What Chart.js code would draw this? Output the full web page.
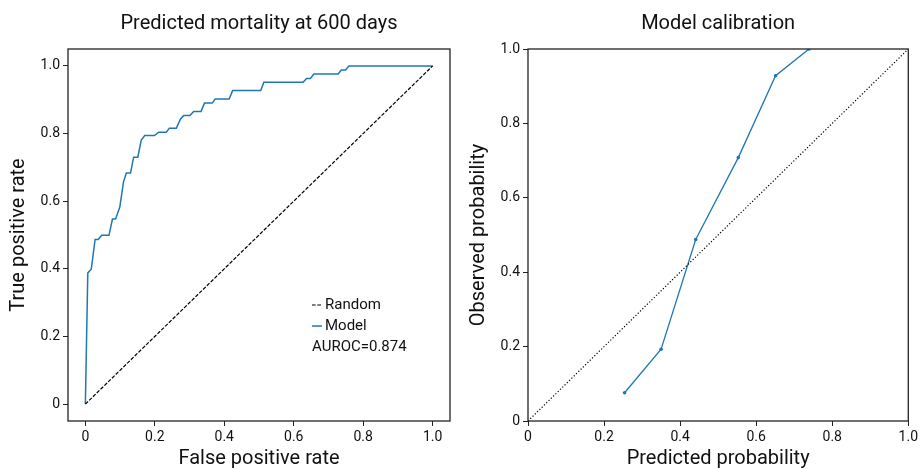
<!DOCTYPE html>
<html>
<head>
<meta charset="utf-8">
<script src="https://cdn.jsdelivr.net/npm/chart.js@4.4.1/dist/chart.umd.min.js"></script>
<style>
    html, body { margin: 0; padding: 0; background: #fff; }
    #wrap { position: relative; width: 921px; height: 469px; }
    #rocChart { position: absolute; left: 0; top: 0; }
    #calChart { position: absolute; left: 460px; top: 0; }
</style>
</head>
<body>
<div id="wrap">
    <canvas id="rocChart" width="460" height="469"></canvas>
    <canvas id="calChart" width="461" height="469"></canvas>
</div>
<script>
// ROC curve
const rocFpr = [0, 0.007, 0.017, 0.028, 0.037, 0.047, 0.068, 0.078, 0.087, 0.099, 0.110, 0.118, 0.130,
    0.139, 0.151, 0.161, 0.171, 0.199, 0.211, 0.233, 0.242, 0.262, 0.274, 0.283, 0.301, 0.312, 0.333,
    0.343, 0.365, 0.374, 0.414, 0.424, 0.505, 0.514, 0.627, 0.637, 0.648, 0.658, 0.728, 0.737, 0.749,
    0.759, 1.0];
const rocTpr = [0, 0.388, 0.399, 0.487, 0.487, 0.499, 0.499, 0.547, 0.547, 0.582, 0.658, 0.683, 0.683,
    0.730, 0.730, 0.781, 0.794, 0.794, 0.804, 0.804, 0.816, 0.816, 0.843, 0.853, 0.853, 0.865, 0.865,
    0.890, 0.890, 0.902, 0.902, 0.927, 0.927, 0.952, 0.952, 0.963, 0.963, 0.976, 0.976, 0.988, 0.988,
    1.0, 1.0];
const randomLine = [0, 1];

// Calibration curve
const calPredicted = [0.254, 0.350, 0.441, 0.553, 0.651, 0.739];
const calObserved = [0.076, 0.193, 0.488, 0.708, 0.928, 1.0];

const tickValues = [0, 0.2, 0.4, 0.6, 0.8, 1.0];
const aurocLabel = 'AUROC=0.874';

const FONT = 'Roboto, "DejaVu Sans", sans-serif';
const TEXT = '#111';
const BLUE = '#1f77b4';

function toPoints(xs, ys) {
    return xs.map((x, i) => ({ x: x, y: ys[i] }));
}

function fmtTick(v) {
    return v === 0 ? '0' : v.toFixed(1);
}

// eje estilo matplotlib
function makeAxis(min, max, title, horizontal) {
    return {
        type: 'linear',
        min: min,
        max: max,
        afterBuildTicks: function (scale) {
            scale.ticks = tickValues.map(v => ({ value: v }));
        },
        afterFit: function (scale) {
            if (horizontal) scale.height = 48;
            else scale.width = 68;
        },
        grid: {
            display: true,
            drawOnChartArea: false,
            drawTicks: true,
            tickLength: 5,
            color: '#222',
            lineWidth: 1
        },
        border: { display: false },
        ticks: {
            padding: 3,
            color: TEXT,
            font: { family: FONT, size: 14 },
            callback: fmtTick,
            maxRotation: 0,
            autoSkip: false
        },
        title: {
            display: true,
            text: title,
            color: TEXT,
            font: { family: FONT, size: 20, lineHeight: 1 },
            padding: horizontal ? { top: 0, bottom: 0 } : { top: 8.5, bottom: 0 }
        }
    };
}

// marco completo alrededor del área
const framePlugin = {
    id: 'frame',
    afterDraw: function (chart) {
        const a = chart.chartArea;
        const ctx = chart.ctx;
        ctx.save();
        ctx.strokeStyle = '#222';
        ctx.lineWidth = 1.3;
        ctx.setLineDash([]);
        ctx.strokeRect(a.left, a.top, a.right - a.left, a.bottom - a.top);
        ctx.restore();
    }
};

// leyenda dentro del gráfico ROC
const rocLegendPlugin = {
    id: 'rocLegend',
    afterDatasetsDraw: function (chart) {
        const ctx = chart.ctx;
        const x0 = 312, textX = 325;
        const rows = [305, 326, 347];
        ctx.save();
        ctx.font = '15px ' + FONT;
        ctx.fillStyle = TEXT;
        ctx.textBaseline = 'middle';
        ctx.textAlign = 'left';

        ctx.strokeStyle = '#000';
        ctx.lineWidth = 1.2;
        ctx.setLineDash([3.7, 1.6]);
        ctx.beginPath();
        ctx.moveTo(x0, rows[0]);
        ctx.lineTo(x0 + 9, rows[0]);
        ctx.stroke();
        ctx.fillText('Random', textX, rows[0]);

        ctx.strokeStyle = BLUE;
        ctx.lineWidth = 1.5;
        ctx.setLineDash([]);
        ctx.beginPath();
        ctx.moveTo(x0, rows[1]);
        ctx.lineTo(x0 + 10, rows[1]);
        ctx.stroke();
        ctx.fillText('Model', textX, rows[1]);

        ctx.fillText(aurocLabel, x0, rows[2]);
        ctx.restore();
    }
};

function baseOptions(titleText, xTitle, yTitle, lo, hi, padRight) {
    return {
        responsive: false,
        animation: false,
        layout: { padding: { left: 0, right: padRight, top: 0, bottom: 0 } },
        plugins: {
            legend: { display: false },
            tooltip: { enabled: false },
            title: {
                display: true,
                fullSize: false,
                text: titleText,
                color: TEXT,
                font: { family: FONT, size: 20, weight: 'normal', lineHeight: 1.2 },
                padding: { top: 11.5, bottom: 13.5 }
            }
        },
        scales: {
            x: makeAxis(lo, hi, xTitle, true),
            y: makeAxis(lo, hi, yTitle, false)
        }
    };
}

document.addEventListener('DOMContentLoaded', function () {
    new Chart(document.getElementById('rocChart').getContext('2d'), {
        type: 'line',
        data: {
            datasets: [{
                label: 'Random',
                data: toPoints(randomLine, randomLine),
                borderColor: '#000',
                borderWidth: 1.2,
                borderDash: [3.7, 1.6],
                pointRadius: 0,
                fill: false
            }, {
                label: 'Model',
                data: toPoints(rocFpr, rocTpr),
                borderColor: BLUE,
                borderWidth: 1.5,
                pointRadius: 0,
                tension: 0,
                fill: false
            }]
        },
        options: baseOptions('Predicted mortality at 600 days', 'False positive rate', 'True positive rate', -0.05, 1.05, 10),
        plugins: [framePlugin, rocLegendPlugin]
    });

    new Chart(document.getElementById('calChart').getContext('2d'), {
        type: 'line',
        data: {
            datasets: [{
                label: 'Perfect',
                data: toPoints(randomLine, randomLine),
                borderColor: '#000',
                borderWidth: 1.2,
                borderDash: [1.2, 2],
                pointRadius: 0,
                fill: false
            }, {
                label: 'Model',
                data: toPoints(calPredicted, calObserved),
                borderColor: BLUE,
                backgroundColor: BLUE,
                borderWidth: 1.3,
                pointRadius: 1.8,
                pointBorderWidth: 0,
                tension: 0,
                fill: false
            }]
        },
        options: baseOptions('Model calibration', 'Predicted probability', 'Observed probability', 0, 1, 12),
        plugins: [framePlugin]
    });
});
</script>
</body>
</html>
